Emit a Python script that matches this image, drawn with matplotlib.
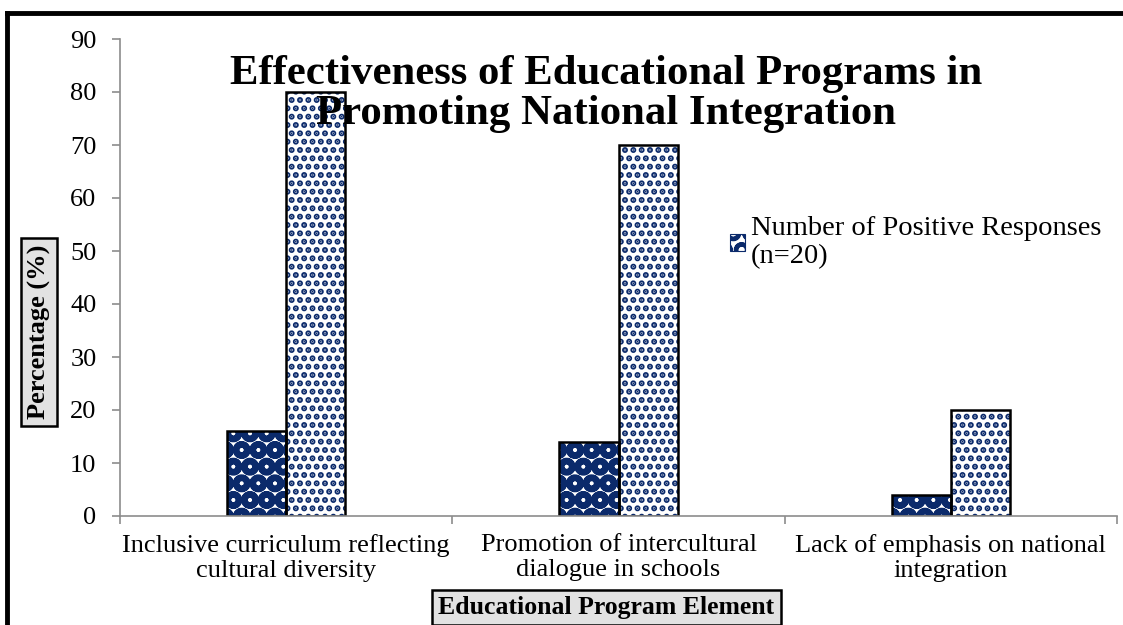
import matplotlib.pyplot as plt
import numpy as np
from matplotlib.lines import Line2D
from matplotlib.patches import Patch

plt.rcParams['font.family'] = ['Liberation Serif', 'DejaVu Serif']

elements = ['Inclusive curriculum reflecting\ncultural diversity',
            'Promotion of intercultural\ndialogue in schools',
            'Lack of emphasis on national\nintegration']
positive = [16, 14, 4]
percentage = [80, 70, 20]

navy = '#0b2a6b'

fig = plt.figure(figsize=(11.23, 6.25), dpi=100)
ax = fig.add_axes([0.1069, 0.1744, 0.8878, 0.7632])

x = np.arange(len(elements))
w = 0.178

# fill patterns first, then black outlines on top
plt.rcParams['hatch.linewidth'] = 4.5
ax.bar(x - w / 2, positive, w, color='white', edgecolor=navy, hatch='O', linewidth=0)
legend_patch = Patch(facecolor='white', edgecolor=navy, hatch='O', linewidth=0.8)
plt.rcParams['hatch.linewidth'] = 3.0
ax.bar(x + w / 2, percentage, w, color='white', edgecolor=navy, hatch='..', linewidth=0)
ax.bar(x - w / 2, positive, w, fill=False, edgecolor='black', linewidth=1.8)
ax.bar(x + w / 2, percentage, w, fill=False, edgecolor='black', linewidth=1.8)

ax.set_xlim(-0.5, len(elements) - 0.5)
ax.set_ylim(0, 90)
ax.set_yticks(range(0, 91, 10))
ax.set_xticks(x)
ax.set_xticklabels(elements, fontsize=19, linespacing=1.15)
ax.set_xticks(np.arange(-0.5, len(elements), 1), minor=True)
ax.tick_params(axis='x', which='major', length=0, pad=13)
ax.tick_params(axis='x', which='minor', length=6, color='#8c8c8c', width=1.2)
ax.tick_params(axis='y', labelsize=19, length=6, color='#8c8c8c', width=1.2, pad=11)

for s in ['top', 'right']:
    ax.spines[s].set_visible(False)
for s in ['left', 'bottom']:
    ax.spines[s].set_color('#8c8c8c')
    ax.spines[s].set_linewidth(1.2)

fig.text(0.54, 0.85, 'Effectiveness of Educational Programs in\nPromoting National Integration',
         ha='center', va='center', fontsize=30.8, fontweight='bold', linespacing=1.07)

box = dict(boxstyle='square,pad=0.25', facecolor='#e2e2e2', edgecolor='black', linewidth=1.8)
fig.text(0.035, 0.469, 'Percentage (%)', rotation=90, ha='center', va='center',
         fontsize=19, fontweight='bold', bbox=box)
fig.text(0.54, 0.028, 'Educational Program Element', ha='center', va='center',
         fontsize=18.5, fontweight='bold', bbox=box)

leg = ax.legend([legend_patch], ['Number of Positive Responses\n(n=20)'], loc='upper left',
                bbox_to_anchor=(0.6, 0.652), frameon=False, fontsize=20.5, handlelength=0.55,
                handleheight=0.55, handletextpad=0.2, borderaxespad=0)
leg.get_texts()[0].set_linespacing(1.15)

# frame lines along the top and left edge of the image
fig.add_artist(Line2D([0.0062, 1.0], [0.9800, 0.9800], color='black', linewidth=3.5))
fig.add_artist(Line2D([0.0062, 0.0062], [0.0, 0.9800], color='black', linewidth=3.5))

plt.savefig('out.png', dpi=100)
